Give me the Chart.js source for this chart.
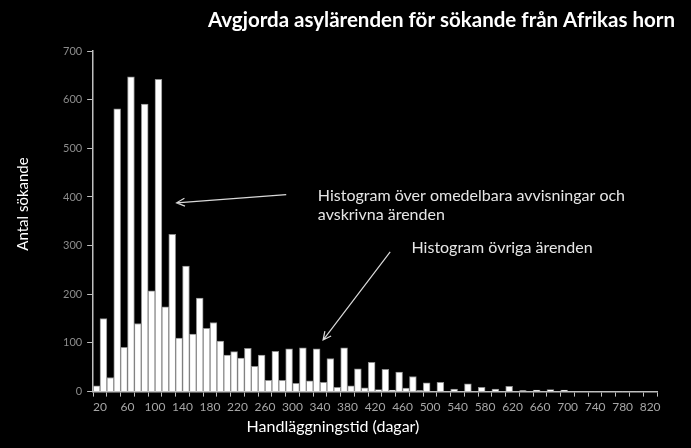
<!DOCTYPE html>
<html lang="sv">
<head>
  <meta charset="UTF-8">
  <title>Avgjorda asylärenden för sökande från Afrikas horn</title>
  <script src="https://cdn.jsdelivr.net/npm/chart.js"></script>
  <style>
    html, body {
      margin: 0;
      padding: 0;
      background: #000;
    }
    .chart-container {
      width: 691px;
      height: 448px;
    }
  </style>
</head>
<body>
  <div class="chart-container">
    <canvas id="histChart" width="691" height="448"></canvas>
  </div>

  <script>
    // Handläggningstid i dagar (klasser om 20 dagar)
    const dagar = [20, 40, 60, 80, 100, 120, 140, 160, 180, 200,
                   220, 240, 260, 280, 300, 320, 340, 360, 380, 400,
                   420, 440, 460, 480, 500, 520, 540, 560, 580, 600,
                   620, 640, 660, 680, 700, 720, 740, 760, 780, 800, 820];

    // Övriga ärenden (vänster stapel i varje klass)
    const ovriga = [12, 29, 91, 140, 207, 174, 110, 118, 130, 104,
                    82, 89, 75, 83, 88, 90, 88, 68, 90, 47,
                    60, 46, 40, 31, 18, 19, 5, 16, 9, 5,
                    11, 2, 3, 4, 3, 0, 1, 0, 1, 1, 0];

    // Omedelbara avvisningar och avskrivna ärenden (höger stapel)
    const omedelbara = [150, 581, 647, 591, 642, 323, 258, 192, 142, 75,
                        69, 52, 23, 23, 17, 22, 19, 9, 12, 8,
                        4, 3, 7, 2, 0, 0, 0, 0, 0, 0,
                        0, 0, 0, 0, 0, 0, 0, 0, 0, 0, 0];

    const yTicks = [0, 100, 200, 300, 400, 500, 600, 700];

    const rubrik = 'Avgjorda asylärenden för sökande från Afrikas horn';
    const xRubrik = 'Handläggningstid (dagar)';
    const yRubrik = 'Antal sökande';

    // Texter och pilar, i diagrammets egna koordinater (klassindex, antal)
    const textRader = [
      { text: 'Histogram över omedelbara avvisningar och', x: 15.84, y: 402 },
      { text: 'avskrivna ärenden', x: 15.84, y: 363 },
      { text: 'Histogram övriga ärenden', x: 22.65, y: 295 }
    ];
    const pilar = [
      { fromX: 13.54, fromY: 405, toX: 5.57, toY: 388 },
      { fromX: 21.1, fromY: 287, toX: 16.22, toY: 106 }
    ];

    const FONT = 'Lato, "Open Sans", sans-serif';

    //-------------------------------------------------------------------
    // Plugin för rubrik, axeltitlar, texter och pilar
    //-------------------------------------------------------------------
    const anteckningar = {
      id: 'anteckningar',
      afterDraw(chart) {
        const ctx = chart.ctx;
        const xs = chart.scales.x;
        const ys = chart.scales.y;
        ctx.save();

        // rubrik uppe till höger
        ctx.fillStyle = '#ffffff';
        ctx.font = 'bold 20.5px ' + FONT;
        ctx.textAlign = 'right';
        ctx.textBaseline = 'middle';
        ctx.fillText(rubrik, 675, 20);

        // axeltitlar (ligger inte mitt för ritytan i originalet)
        ctx.font = '16px ' + FONT;
        ctx.textAlign = 'center';
        ctx.fillText(xRubrik, 333, 427);

        ctx.save();
        ctx.translate(23, 204);
        ctx.rotate(-Math.PI / 2);
        ctx.font = '15px ' + FONT;
        ctx.fillText(yRubrik, 0, 0);
        ctx.restore();

        ctx.fillStyle = '#e6e6e6';
        ctx.font = '16px ' + FONT;
        ctx.textAlign = 'left';
        textRader.forEach(t => {
          ctx.fillText(t.text, xs.getPixelForValue(t.x), ys.getPixelForValue(t.y));
        });

        ctx.strokeStyle = '#d9d9d9';
        ctx.lineWidth = 1.2;
        pilar.forEach(p => {
          const x1 = xs.getPixelForValue(p.fromX), y1 = ys.getPixelForValue(p.fromY);
          const x2 = xs.getPixelForValue(p.toX), y2 = ys.getPixelForValue(p.toY);
          const ang = Math.atan2(y2 - y1, x2 - x1);
          const len = 9, spread = 0.45;
          ctx.beginPath();
          ctx.moveTo(x1, y1);
          ctx.lineTo(x2, y2);
          ctx.moveTo(x2 - len * Math.cos(ang - spread), y2 - len * Math.sin(ang - spread));
          ctx.lineTo(x2, y2);
          ctx.lineTo(x2 - len * Math.cos(ang + spread), y2 - len * Math.sin(ang + spread));
          ctx.stroke();
        });
        ctx.restore();
      }
    };

    const ctx1 = document.getElementById('histChart').getContext('2d');
    const histChart = new Chart(ctx1, {
      type: 'bar',
      data: {
        labels: dagar,
        datasets: [
          {
            label: 'Övriga ärenden',
            data: ovriga,
            backgroundColor: '#ffffff',
            borderColor: '#8c8c8c',
            borderWidth: 1,
            barPercentage: 1,
            categoryPercentage: 1
          },
          {
            label: 'Omedelbara avvisningar och avskrivna ärenden',
            data: omedelbara,
            backgroundColor: '#ffffff',
            borderColor: '#8c8c8c',
            borderWidth: 1,
            barPercentage: 1,
            categoryPercentage: 1
          }
        ]
      },
      options: {
        responsive: false,
        animation: false,
        layout: {
          padding: { left: 58, right: 34, top: 51, bottom: 31 }
        },
        scales: {
          x: {
            grid: {
              offset: true,
              drawOnChartArea: false,
              color: '#bfbfbf',
              tickLength: 5
            },
            border: { color: '#bfbfbf', width: 1.5 },
            ticks: {
              color: '#a6a6a6',
              font: { family: FONT, size: 12 },
              autoSkip: false,
              maxRotation: 0,
              padding: 3,
              callback: (v, i) => (i % 2 === 0 ? dagar[i] : '')
            }
          },
          y: {
            min: 0,
            max: 700,
            afterBuildTicks: axis => {
              axis.ticks = yTicks.map(v => ({ value: v }));
            },
            grid: {
              drawOnChartArea: false,
              color: '#bfbfbf',
              tickLength: 6
            },
            border: { color: '#bfbfbf', width: 1.5 },
            ticks: {
              color: '#8c8c8c',
              font: { family: FONT, size: 11 },
              padding: 5
            }
          }
        },
        plugins: {
          legend: { display: false },
          tooltip: { enabled: false },
          title: { display: false }
        }
      },
      plugins: [anteckningar]
    });
  </script>
</body>
</html>
